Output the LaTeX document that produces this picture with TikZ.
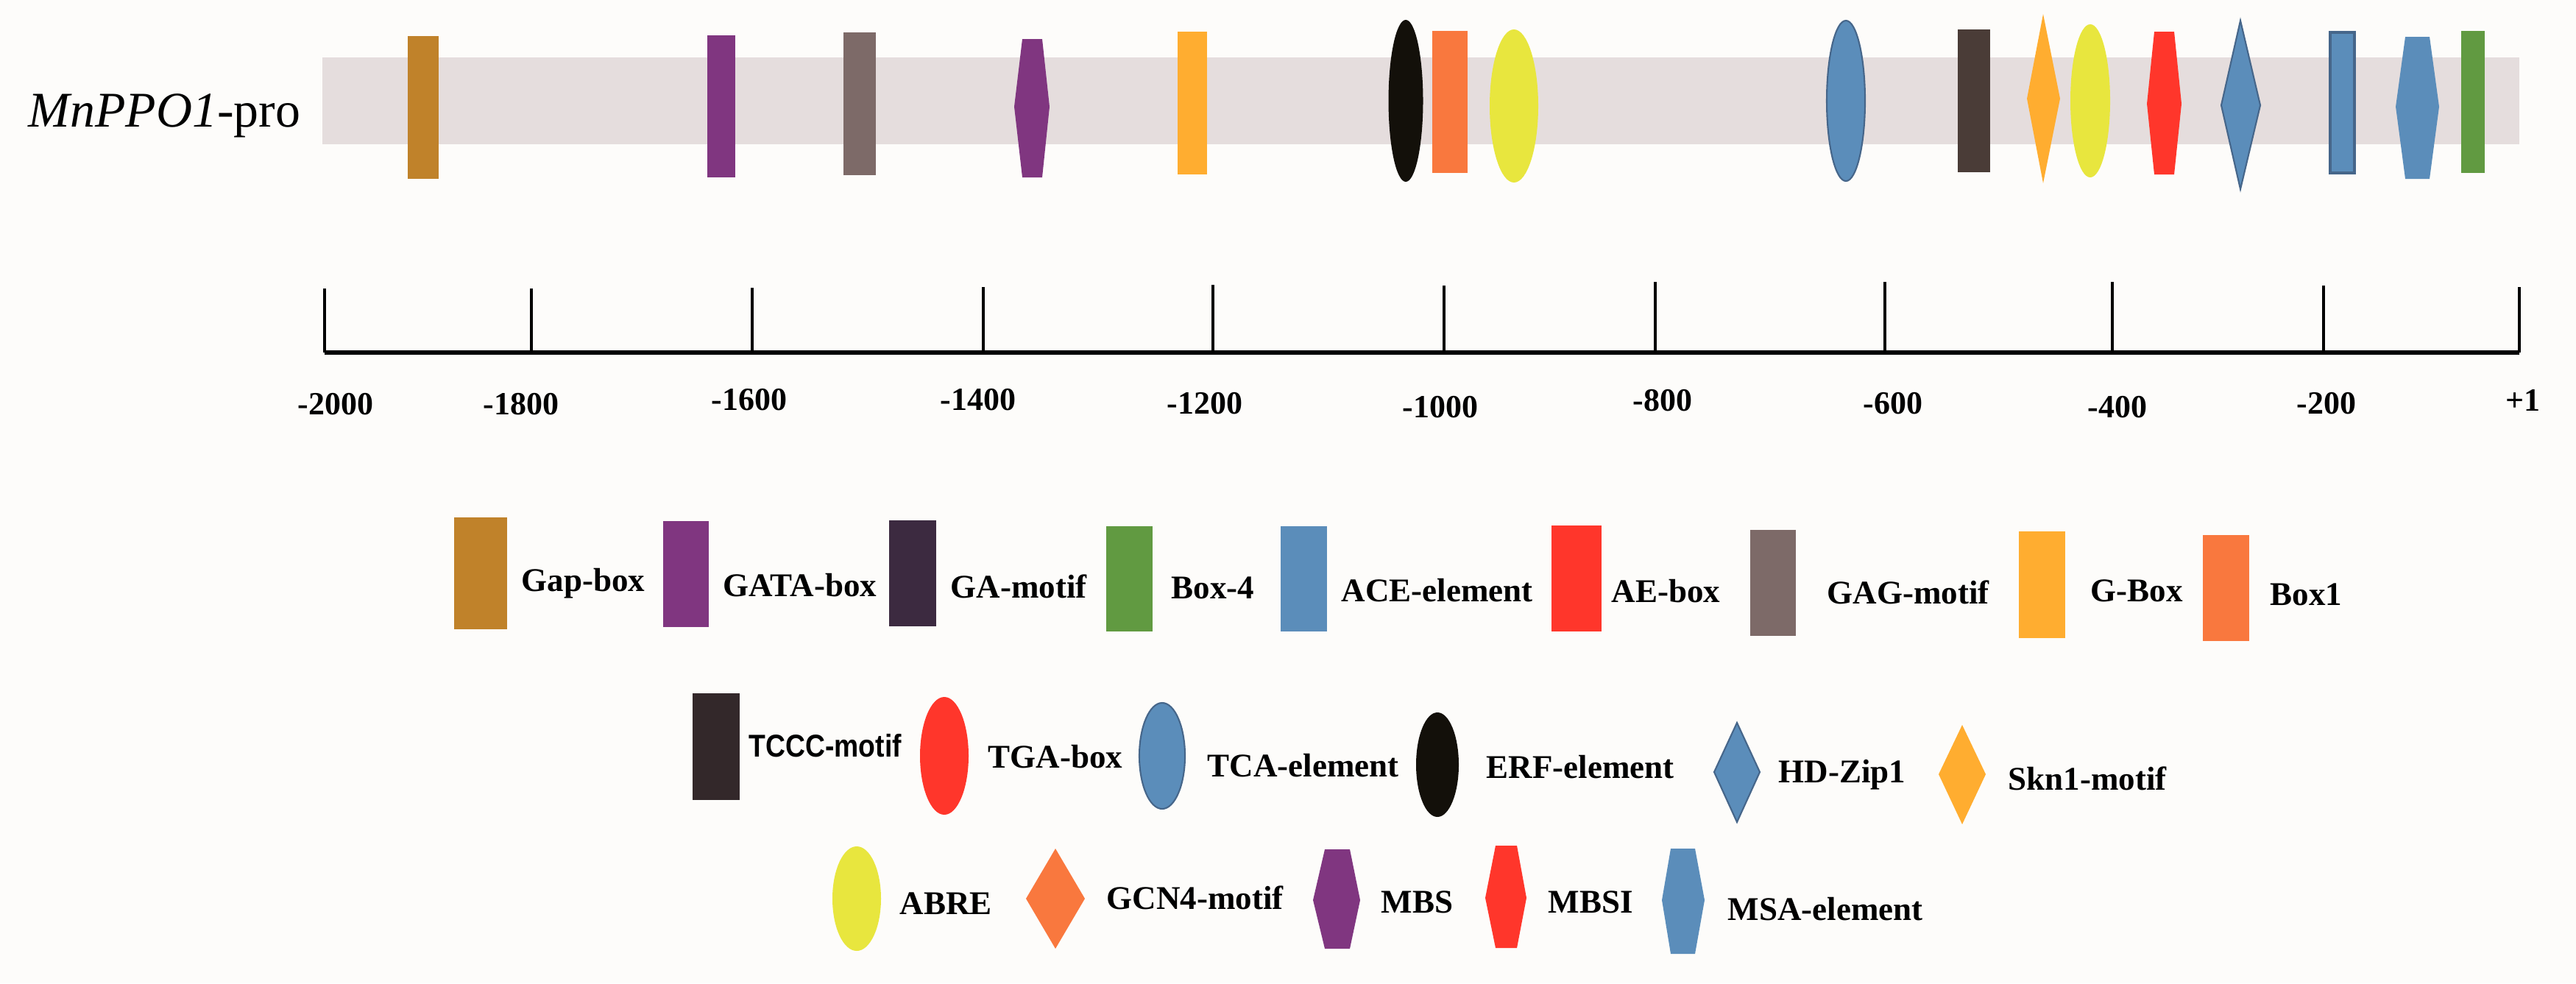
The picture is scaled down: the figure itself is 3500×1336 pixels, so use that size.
\documentclass[tikz,border=0pt]{standalone}
\usepackage{fontspec}
\setmainfont{Liberation Serif}
\newfontfamily\lsans{Liberation Sans}
\definecolor{bgc}{RGB}{253,252,250}
\definecolor{bandc}{RGB}{229,221,221}
\definecolor{gapc}{RGB}{192,130,42}
\definecolor{purc}{RGB}{128,54,128}
\definecolor{gagc}{RGB}{125,106,104}
\definecolor{gboxc}{RGB}{255,173,48}
\definecolor{erfc}{RGB}{19,16,10}
\definecolor{boxonec}{RGB}{249,120,62}
\definecolor{abrec}{RGB}{232,230,62}
\definecolor{bluec}{RGB}{91,141,186}
\definecolor{blueline}{RGB}{70,102,138}
\definecolor{tcccc}{RGB}{74,60,55}
\definecolor{tccclc}{RGB}{51,40,42}
\definecolor{gamc}{RGB}{60,42,64}
\definecolor{redc}{RGB}{255,54,43}
\definecolor{greenc}{RGB}{97,154,65}
\newcommand\lblfnt{\fontsize{12.8pt}{14pt}\selectfont\bfseries}
\newcommand\axfnt{\fontsize{12.5pt}{14pt}\selectfont\bfseries}
\begin{document}
\begin{tikzpicture}[x=0.01cm,y=-0.01cm,
  lbl/.style={anchor=base west,inner sep=0pt,font=\lblfnt},
  axl/.style={anchor=base,inner sep=0pt,font=\axfnt},
  tick/.style={line width=1.1pt},
  bout/.style={draw=blueline,line width=0.6pt}]
\fill[bgc] (0,0) rectangle (3500,1336);
\useasboundingbox (0,0) rectangle (3500,1336);
% title
\node[anchor=base west,inner sep=0pt,font=\fontsize{19.3pt}{22pt}\selectfont] (title) at (38,172) {\textit{MnPPO1}-pro};
% band
\fill[bandc] (438,78) rectangle (3423,196);
% elements on band
\fill[gapc] (554,49) rectangle (596,243);
\fill[purc] (961,48) rectangle (999,241);
\fill[gagc] (1146,44) rectangle (1190,238);
\fill[purc] (1389,53) -- (1416,53) -- (1426,145) -- (1416,241) -- (1389,241) -- (1378,145) -- cycle;
\fill[gboxc] (1600,43) rectangle (1640,237);
\fill[erfc] (1910,137) ellipse [x radius=23.5, y radius=110];
\fill[boxonec] (1946,42) rectangle (1994,235);
\fill[abrec] (2057,144) ellipse [x radius=33, y radius=104];
\filldraw[fill=bluec,bout] (2508,137) ellipse [x radius=26, y radius=109];
\fill[tcccc] (2660,40) rectangle (2704,234);
\fill[gboxc] (2776,19) -- (2799,134) -- (2776,249) -- (2754,134) -- cycle;
\fill[abrec] (2840,137) ellipse [x radius=27, y radius=104];
\fill[redc] (2927,43) -- (2954,43) -- (2964,141) -- (2954,237) -- (2927,237) -- (2917,141) -- cycle;
\filldraw[fill=bluec,bout] (3044,28) -- (3071,143) -- (3044,257) -- (3018,143) -- cycle;
\filldraw[fill=bluec,draw=blueline,line width=1.1pt] (3166,44) rectangle (3199,235);
\fill[bluec] (3268,50) -- (3301,50) -- (3314,145) -- (3301,243) -- (3268,243) -- (3255,145) -- cycle;
\fill[greenc] (3344,42) rectangle (3376,235);
% axis
\coordinate (a0) at (441,479);
\coordinate (a1) at (3423,479);
\draw[line width=1.7pt] (a0) -- (a1);
\foreach \xx/\yy in {441/392,722/392,1022/391,1336/390,1648/387,1962/388,2249/383,2561/383,2870/383,3157/388,3423/390}
  \draw[tick] (\xx,479) -- (\xx,\yy);
\node[axl] (l2000) at (456,563) {-2000};
\node[axl] (l1800) at (708,563) {-1800};
\node[axl] (l1600) at (1018,557) {-1600};
\node[axl] (l1400) at (1329,557) {-1400};
\node[axl] (l1200) at (1637,562) {-1200};
\node[axl] (l1000) at (1957,567) {-1000};
\node[axl] (l800) at (2259,558) {-800};
\node[axl] (l600) at (2572,562) {-600};
\node[axl] (l400) at (2877,567) {-400};
\node[axl] (l200) at (3161,562) {-200};
\node[axl] (lp1) at (3428,558) {+1};
% legend row 1
\fill[gapc] (617,703) rectangle (689,855);
\node[lbl] (tgap) at (708,803) {Gap-box};
\fill[purc] (901,708) rectangle (963,852);
\node[lbl] (tgata) at (982,810) {GATA-box};
\fill[gamc] (1208,707) rectangle (1272,851);
\node[lbl] (tgam) at (1291,812) {GA-motif};
\fill[greenc] (1503,715) rectangle (1566,858);
\node[lbl] (tbox4) at (1591,813) {Box-4};
\fill[bluec] (1740,715) rectangle (1803,858);
\node[lbl] (tace) at (1822,817) {ACE-element};
\fill[redc] (2108,714) rectangle (2176,858);
\node[lbl] (tae) at (2189,818) {AE-box};
\fill[gagc] (2378,720) rectangle (2440,864);
\node[lbl] (tgag) at (2482,820) {GAG-motif};
\fill[gboxc] (2743,722) rectangle (2806,867);
\node[lbl] (tgb) at (2840,817) {G-Box};
\fill[boxonec] (2993,727) rectangle (3056,871);
\node[lbl] (tb1) at (3084,822) {Box1};
% legend row 2
\fill[tccclc] (941,942) rectangle (1005,1087);
\node[anchor=base west,inner sep=0pt,font=\lsans\bfseries\fontsize{12.2pt}{14pt}\selectfont] (ttccc) at (1017,1028) {\scalebox{0.87}[1]{TCCC-motif}};
\fill[redc] (1283,1027) ellipse [x radius=33, y radius=80];
\node[lbl] (ttga) at (1342,1043) {TGA-box};
\filldraw[fill=bluec,bout] (1579,1027) ellipse [x radius=31, y radius=72];
\node[lbl] (ttca) at (1640,1055) {TCA-element};
\fill[erfc] (1953,1039) ellipse [x radius=29, y radius=71];
\node[lbl] (terf) at (2019,1057) {ERF-element};
\filldraw[fill=bluec,bout] (2360,982) -- (2391,1049) -- (2360,1117) -- (2329,1049) -- cycle;
\node[lbl] (thd) at (2416,1063) {HD-Zip1};
\fill[gboxc] (2666,985) -- (2698,1052) -- (2666,1120) -- (2634,1052) -- cycle;
\node[lbl] (tskn) at (2728,1073) {Skn1-motif};
% legend row 3
\fill[abrec] (1164,1221) ellipse [x radius=33, y radius=71];
\node[lbl] (tabre) at (1222,1242) {ABRE};
\fill[boxonec] (1434,1153) -- (1474,1221) -- (1434,1289) -- (1394,1221) -- cycle;
\node[lbl] (tgcn) at (1503,1235) {GCN4-motif};
\fill[purc] (1800,1154) -- (1834,1154) -- (1848,1223) -- (1834,1289) -- (1800,1289) -- (1784,1223) -- cycle;
\node[lbl] (tmbs) at (1876,1240) {MBS};
\fill[redc] (2032,1149) -- (2061,1149) -- (2074,1220) -- (2061,1288) -- (2032,1288) -- (2018,1220) -- cycle;
\node[lbl] (tmbsi) at (2103,1240) {MBSI};
\fill[bluec] (2270,1153) -- (2303,1153) -- (2316,1223) -- (2303,1296) -- (2270,1296) -- (2258,1223) -- cycle;
\node[lbl] (tmsa) at (2347,1250) {MSA-element};
\end{tikzpicture}
\end{document}
